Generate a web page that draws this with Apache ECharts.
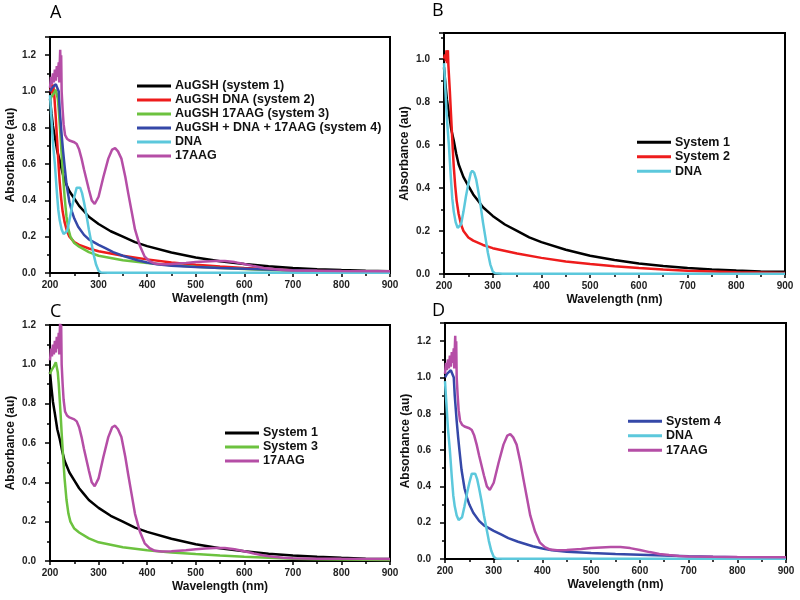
<!DOCTYPE html>
<html>
<head>
<meta charset="utf-8">
<script src="https://cdn.jsdelivr.net/npm/echarts@6/dist/echarts.min.js"></script>
<style>html,body{margin:0;padding:0;background:#fff}#c{width:800px;height:600px}</style>
</head>
<body>
<div id="c"></div>
<script>
// ---- Data (wavelength in nm, absorbance in au) ----
var sys1Wl  = [200,203,206,210,215,220,225,230,240,250,260,270,280,300,325,350,375,400,450,500,550,600,650,700,750,800,850,900];
var sys1Abs = [0.96,0.88,0.81,0.75,0.67,0.62,0.56,0.51,0.45,0.41,0.37,0.34,0.31,0.27,0.23,0.20,0.17,0.148,0.113,0.085,0.065,0.049,0.037,0.028,0.021,0.016,0.012,0.01];

var sys2Wl  = [200,202,204,205,206,207,208,209,210,212,214,216,218,220,223,226,230,235,240,250,260,280,300,350,400,450,500,550,600,650,700,800,900];
var sys2Abs = [1.0,1.02,0.99,1.04,0.98,1.03,1.04,0.97,0.93,0.85,0.76,0.67,0.58,0.5,0.41,0.34,0.28,0.23,0.2,0.17,0.155,0.135,0.12,0.095,0.075,0.058,0.046,0.036,0.028,0.021,0.015,0.008,0.005];

var sys3Wl  = [200,203,206,208,210,212,214,216,218,220,222,224,227,230,234,238,242,250,260,280,300,350,400,450,500,550,600,650,700,750,800,900];
var sys3Abs = [0.95,0.97,0.96,0.99,1.0,1.01,1.02,0.96,0.9,0.82,0.74,0.65,0.53,0.42,0.31,0.24,0.2,0.165,0.145,0.115,0.095,0.07,0.055,0.043,0.035,0.028,0.022,0.017,0.012,0.009,0.007,0.005];

var sys4Wl  = [200,204,208,212,215,218,220,224,227,230,234,240,245,250,258,270,280,300,315,330,350,380,400,420,450,500,550,600,650,700,750,800,900];
var sys4Abs = [1.0,1.02,1.03,1.04,1.05,1.0,0.9,0.76,0.67,0.59,0.49,0.39,0.34,0.3,0.255,0.21,0.185,0.155,0.135,0.115,0.095,0.07,0.058,0.048,0.04,0.033,0.028,0.024,0.019,0.015,0.012,0.01,0.008];

var dnaWl  = [200,203,206,210,214,217,220,224,228,231,235,240,245,250,255,258,262,266,270,275,280,285,290,295,300,305,320,400,600,900];
var dnaAbs = [0.98,0.85,0.72,0.6,0.45,0.35,0.29,0.24,0.215,0.21,0.23,0.29,0.36,0.42,0.47,0.48,0.47,0.44,0.39,0.32,0.24,0.17,0.1,0.045,0.012,0.003,0.001,0.001,0.001,0.001];

var aagWl  = [200,202,204,206,208,210,212,214,216,218,219,220,221,222,223,224,226,228,231,235,240,250,255,260,265,270,280,286,292,300,310,320,328,334,340,347,355,361,368,375,385,395,405,416,430,450,480,500,520,540,560,580,600,620,640,660,680,700,750,800,900];
var aagAbs = [1.02,1.08,1.04,1.1,1.05,1.12,1.06,1.14,1.08,1.16,1.05,1.15,1.23,1.1,1.2,1.0,0.9,0.82,0.76,0.74,0.73,0.72,0.71,0.68,0.63,0.57,0.46,0.4,0.38,0.42,0.53,0.63,0.68,0.688,0.67,0.63,0.53,0.44,0.34,0.24,0.15,0.09,0.065,0.052,0.048,0.05,0.055,0.06,0.064,0.066,0.066,0.06,0.05,0.038,0.028,0.022,0.017,0.014,0.012,0.011,0.01];

var panelLetters = ['A','B','C','D'];

// names
var namesA = ['AuGSH (system 1)','AuGSH DNA (system 2)','AuGSH 17AAG (system 3)','AuGSH + DNA + 17AAG (system 4)','DNA','17AAG'];
var namesB = ['System 1','System 2','DNA'];
var namesC = ['System 1','System 3','17AAG'];
var namesD = ['System 4','DNA','17AAG'];

// ---- styling ----
var COL = {s1:'#000000', s2:'#ee1c1c', s3:'#6cc23f', s4:'#3548a8', dna:'#5cc8dc', aag:'#b54ea6'};
function zip(w,a){ var r=[]; for(var i=0;i<w.length;i++) r.push([w[i],a[i]]); return r; }
var D = {s1:zip(sys1Wl,sys1Abs), s2:zip(sys2Wl,sys2Abs), s3:zip(sys3Wl,sys3Abs), s4:zip(sys4Wl,sys4Abs), dna:zip(dnaWl,dnaAbs), aag:zip(aagWl,aagAbs)};

var grids = [
  {left:50, top:37, width:340, height:236, ymax:1.3},
  {left:444, top:33, width:341, height:241, ymax:1.12},
  {left:50, top:325, width:340, height:236, ymax:1.2},
  {left:445, top:323, width:341, height:236, ymax:1.3}
];

var FONT = '"Liberation Sans", Arial, sans-serif';
var option = {
  animation:false,
  backgroundColor:'#fff',
  grid:[], xAxis:[], yAxis:[], series:[], legend:[], graphic:[]
};
grids.forEach(function(g,i){
  option.grid.push({left:g.left, top:g.top, width:g.width, height:g.height, show:true, borderColor:'#000', borderWidth:2, backgroundColor:'transparent', containLabel:false});
  option.xAxis.push({type:'value', gridIndex:i, min:200, max:900, interval:100,
    name:'Wavelength (nm)', nameLocation:'middle', nameGap:20,
    nameTextStyle:{fontFamily:FONT, fontWeight:'bold', fontSize:12, color:'#111'},
    axisLine:{show:true, onZero:false, lineStyle:{color:'#000', width:2}},
    axisTick:{show:true, inside:false, length:4, lineStyle:{color:'#000', width:1.5}},
    minorTick:{show:true, splitNumber:2, length:3, lineStyle:{color:'#000', width:1.5}},
    splitLine:{show:false},
    axisLabel:{fontFamily:FONT, fontWeight:'bold', fontSize:10, color:'#222', margin:7}
  });
  option.yAxis.push({type:'value', gridIndex:i, min:0, max:g.ymax, interval:0.2,
    name:'Absorbance (au)', nameLocation:'middle', nameGap:33,
    nameTextStyle:{fontFamily:FONT, fontWeight:'bold', fontSize:12, color:'#111'},
    axisLine:{show:true, onZero:false, lineStyle:{color:'#000', width:2}},
    axisTick:{show:true, inside:false, length:5, lineStyle:{color:'#000', width:1.5}},
    minorTick:{show:true, splitNumber:2, length:3, lineStyle:{color:'#000', width:1.5}},
    splitLine:{show:false},
    axisLabel:{fontFamily:FONT, fontWeight:'bold', fontSize:10, color:'#222', margin:14, showMaxLabel:true,
      formatter:function(v){ var k=v/0.2; return Math.abs(k-Math.round(k))<1e-6 ? v.toFixed(1) : ''; }}
  });
});

function addSeries(name, key, gi){
  option.series.push({type:'line', name:name, xAxisIndex:gi, yAxisIndex:gi, data:D[key],
    showSymbol:false, symbol:'none', smooth:false, color:COL[key],
    lineStyle:{color:COL[key], width:2.5}, clip:true});
}
var keysA = ['s1','s2','s3','s4','dna','aag'];
namesA.forEach(function(n,k){ addSeries(n, keysA[k], 0); });
var keysB = ['s1','s2','dna']; namesB.forEach(function(n,k){ addSeries(n, keysB[k], 1); });
var keysC = ['s1','s3','aag']; namesC.forEach(function(n,k){ addSeries(n, keysC[k], 2); });
var keysD = ['s4','dna','aag']; namesD.forEach(function(n,k){ addSeries(n, keysD[k], 3); });

function legend(names, left, top, lh){
  return {data:names, orient:'vertical', left:left, top:top, itemWidth:34, itemHeight:3, itemGap:0,
    icon:'rect', selectedMode:false,
    textStyle:{fontFamily:FONT, fontWeight:'bold', fontSize:12.5, color:'#111', lineHeight:lh, padding:[0,0,0,-1]}};
}
option.legend.push(legend(namesA, 132, 74, 14));
option.legend.push(legend(namesB, 632, 130, 14.5));
option.legend.push(legend(namesC, 220, 421, 14));
option.legend.push(legend(namesD, 623, 409, 14.5));

var letterPos = [[50,4],[432,2],[50,303],[432,302]];
panelLetters.forEach(function(L,i){
  option.graphic.push({type:'text', left:letterPos[i][0], top:letterPos[i][1],
    style:{text:L, fontFamily:'"Open Sans", "Liberation Sans", sans-serif', fontSize:18, fill:'#000'}});
});

var chart = echarts.init(document.getElementById('c'), null, {renderer:'canvas'});
chart.setOption(option);
</script>
</body>
</html>
